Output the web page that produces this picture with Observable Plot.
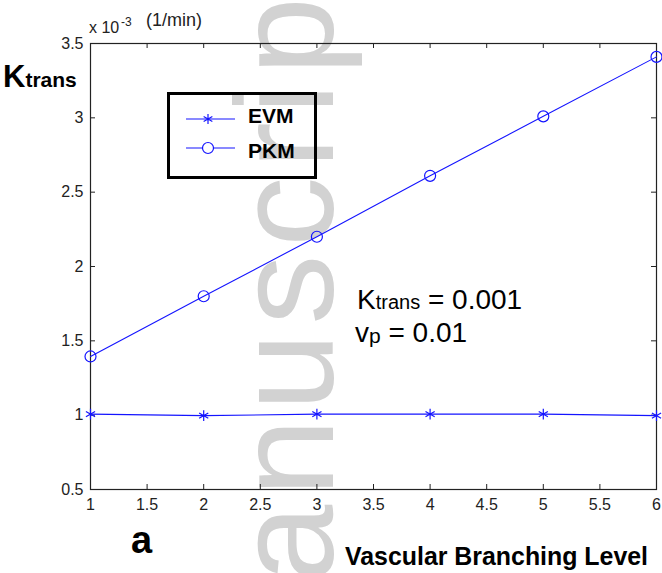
<!DOCTYPE html>
<html>
<head>
<meta charset="utf-8">
<script src="https://cdn.jsdelivr.net/npm/d3@7"></script>
<script src="https://cdn.jsdelivr.net/npm/@observablehq/plot@0.6"></script>
<style>
  html, body { margin: 0; padding: 0; background: white; }
  #chart svg { display: block; }
</style>
</head>
<body>
<div id="chart"></div>
<script>
// ---- data ----
const levels = [1, 2, 3, 4, 5, 6];
const evm = [1.007, 0.997, 1.007, 1.007, 1.007, 0.997];
const pkm = [1.395, 1.80, 2.20, 2.61, 3.01, 3.41];
const xTicks = [1, 1.5, 2, 2.5, 3, 3.5, 4, 4.5, 5, 5.5, 6];
const yTicks = [0.5, 1, 1.5, 2, 2.5, 3, 3.5];
const seriesNames = ["EVM", "PKM"];

// ---- layout ----
const W = 662, H = 573;
const mL = 90, mR = 6, mT = 43, mB = 84;
const innerW = W - mL - mR, innerH = H - mT - mB;
const blue = "#1414ff";
const font = "'Liberation Sans', Arial, Helvetica, sans-serif";
const fmt = d => String(d);

const rows = levels.map((x, i) => ({x, evm: evm[i], pkm: pkm[i]}));

const chart = Plot.plot({
  width: W,
  height: H,
  marginLeft: mL,
  marginRight: mR,
  marginTop: mT,
  marginBottom: mB,
  style: {fontFamily: font, fontSize: "16px", color: "#222", background: "white"},
  x: {domain: [1, 6], ticks: xTicks, tickFormat: fmt, tickSize: 0, tickPadding: 9, label: null},
  y: {domain: [0.5, 3.5], ticks: yTicks, tickFormat: fmt, tickSize: 0, tickPadding: 7, label: null},
  marks: [
    Plot.tickX(xTicks, {x: d => d, insetTop: innerH - 5, stroke: "#222"}),
    Plot.tickX(xTicks, {x: d => d, insetBottom: innerH - 5, stroke: "#222"}),
    Plot.tickY(yTicks, {y: d => d, insetRight: innerW - 5, stroke: "#222"}),
    Plot.tickY(yTicks, {y: d => d, insetLeft: innerW - 5, stroke: "#222"}),
    Plot.frame({stroke: "#222", strokeWidth: 1.2}),
    Plot.line(rows, {x: "x", y: "evm", stroke: blue, strokeWidth: 1.1}),
    Plot.dot(rows, {x: "x", y: "evm", symbol: "asterisk", r: 5, stroke: blue, strokeWidth: 1.2}),
    Plot.line(rows, {x: "x", y: "pkm", stroke: blue, strokeWidth: 1.1}),
    Plot.dot(rows, {x: "x", y: "pkm", symbol: "circle", r: 5.5, fill: "none", stroke: blue, strokeWidth: 1.2})
  ]
});

document.getElementById("chart").appendChild(chart);

// ---- decorations ----
const svg = d3.select(chart);
const ns = "http://www.w3.org/2000/svg";

// watermark behind everything
const wm = document.createElementNS(ns, "text");
wm.setAttribute("transform", "translate(333,707) rotate(-90)");
wm.setAttribute("font-family", font);
wm.setAttribute("font-size", "140");
wm.setAttribute("letter-spacing", "8");
wm.setAttribute("text-anchor", "start");
wm.setAttribute("fill", "#d2d2d2");
wm.textContent = "Manuscript";
const firstNonStyle = Array.from(chart.children).find(c => c.tagName.toLowerCase() !== "style");
chart.insertBefore(wm, firstNonStyle);

const deco = svg.append("g").attr("text-anchor", "start").attr("font-family", font);

// top exponent note
const expNote = deco.append("text").attr("fill", "#222");
expNote.append("tspan").attr("x", 89).attr("y", 33).attr("font-size", 16).text("x 10");
expNote.append("tspan").attr("x", 121).attr("y", 26).attr("font-size", 12).text("-3");
expNote.append("tspan").attr("x", 146).attr("y", 26).attr("font-size", 18).text("(1/min)");

// y label K_trans
const yl = deco.append("text").attr("font-weight", "bold").attr("fill", "#000")
  .attr("x", 3).attr("y", 87);
yl.append("tspan").attr("font-size", 31).text("K");
yl.append("tspan").attr("font-size", 21).text("trans");

// legend
const asteriskType = {draw(ctx) {
  const r = 5;
  ctx.moveTo(0, -r); ctx.lineTo(0, r);
  ctx.moveTo(-r * 0.87, -r * 0.5); ctx.lineTo(r * 0.87, r * 0.5);
  ctx.moveTo(-r * 0.87, r * 0.5); ctx.lineTo(r * 0.87, -r * 0.5);
}};
const lg = deco.append("g");
lg.append("rect").attr("x", 168.5).attr("y", 93.5).attr("width", 147).attr("height", 84)
  .attr("fill", "none").attr("stroke", "#000").attr("stroke-width", 3);
const legendRows = [{name: seriesNames[0], y: 119}, {name: seriesNames[1], y: 148}];
legendRows.forEach((r, i) => {
  lg.append("line").attr("x1", 186).attr("x2", 235).attr("y1", r.y).attr("y2", r.y)
    .attr("stroke", blue).attr("stroke-width", 1.1);
  if (i === 0) {
    lg.append("path").attr("d", d3.symbol().type(asteriskType)())
      .attr("transform", `translate(208,${r.y})`).attr("fill", "none")
      .attr("stroke", blue).attr("stroke-width", 1.2);
  } else {
    lg.append("circle").attr("cx", 208).attr("cy", r.y).attr("r", 5.5)
      .attr("fill", "white").attr("stroke", blue).attr("stroke-width", 1.2);
  }
  lg.append("text").attr("x", 248).attr("y", r.y + (i === 0 ? 4 : 10))
    .attr("font-weight", "bold").attr("font-size", 21).attr("fill", "#000").text(r.name);
});

// annotation
const a1 = deco.append("text").attr("fill", "#000").attr("x", 357).attr("y", 309);
a1.append("tspan").attr("font-size", 28).text("K");
a1.append("tspan").attr("font-size", 20).text("trans");
a1.append("tspan").attr("font-size", 28).text(" = 0.001");
const a2 = deco.append("text").attr("fill", "#000").attr("x", 355).attr("y", 342);
a2.append("tspan").attr("font-size", 28).text("v");
a2.append("tspan").attr("font-size", 21).attr("dy", 1).text("p");
a2.append("tspan").attr("font-size", 28).attr("dy", -1).text(" = 0.01");

// panel letter and x label
deco.append("text").attr("x", 131).attr("y", 553).attr("font-weight", "bold")
  .attr("font-size", 38).attr("fill", "#000").text("a");
deco.append("text").attr("x", 345).attr("y", 565).attr("font-weight", "bold")
  .attr("font-size", 25).attr("textLength", 303).attr("lengthAdjust", "spacingAndGlyphs")
  .attr("fill", "#000").text("Vascular Branching Level");
</script>
</body>
</html>
